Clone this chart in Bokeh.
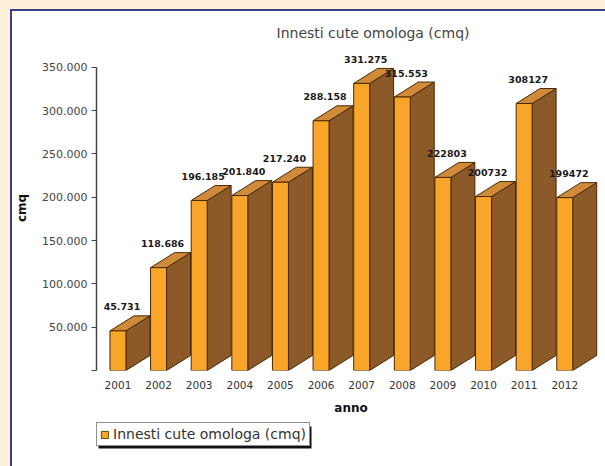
from bokeh.plotting import figure
from bokeh.models import Range1d, FixedTicker, Legend, LegendItem, BoxAnnotation
from bokeh.layouts import column
from bokeh.core.properties import value
from bokeh.embed import file_html
from bokeh.resources import INLINE

# ---------------- data ----------------
years = ["2001", "2002", "2003", "2004", "2005", "2006",
         "2007", "2008", "2009", "2010", "2011", "2012"]
values = [45731, 118686, 196185, 201840, 217240, 288158,
          331275, 315553, 222803, 200732, 308127, 199472]
value_labels = ["45.731", "118.686", "196.185", "201.840", "217.240", "288.158",
                "331.275", "315.553", "222803", "200732", "308127", "199472"]
y_ticks = [0, 50000, 100000, 150000, 200000, 250000, 300000, 350000]
y_tick_labels = ["", "50.000", "100.000", "150.000", "200.000",
                 "250.000", "300.000", "350.000"]
chart_title = "Innesti cute omologa (cmq)"
series_name = "Innesti cute omologa (cmq)"
x_title = "anno"
y_title = "cmq"

# ---------------- style / geometry ----------------
FONT = "DejaVu Sans"
FRONT = "#f9a52a"
SIDE = "#8c5a28"
TOP = "#cf8a3a"
EDGE = "#4a2800"
CREAM = "#fdefd9"
BLUE = "#3c3c8c"

FIG_W, FIG_H = 593, 409
LEG_H = 46
ML, MT, MB, MR = 83, 34, 50, 0
frame_w = FIG_W - ML - MR
frame_h = FIG_H - MT - MB
px_per_cat = 40.7
x_start = -21.5 / px_per_cat
x_end = x_start + frame_w / px_per_cat
y_per_px = 350000 / 303.3
y_end = frame_h * y_per_px

w = 16 / px_per_cat         # front width
dx = 24 / px_per_cat        # depth (x)
dy = 15 * y_per_px          # depth (y)

xs = list(range(len(years)))

side_xs, side_ys, top_xs, top_ys = [], [], [], []
for x, v in zip(xs, values):
    r = x + w / 2
    l = x - w / 2
    side_xs.append([r, r + dx, r + dx, r])
    side_ys.append([0, dy, v + dy, v])
    top_xs.append([l, r, r + dx, l + dx])
    top_ys.append([v, v, v + dy, v + dy])

p = figure(width=FIG_W, height=FIG_H,
           x_range=Range1d(x_start, x_end), y_range=Range1d(0, y_end),
           output_backend="svg", toolbar_location=None,
           min_border_left=ML, min_border_right=MR,
           min_border_top=MT, min_border_bottom=MB,
           border_fill_color="white", background_fill_color="white",
           outline_line_color=None)

p.patches(side_xs, side_ys, fill_color=SIDE, line_color=EDGE, line_width=1)
p.patches(top_xs, top_ys, fill_color=TOP, line_color=EDGE, line_width=1)
front = p.vbar(x=xs, top=values, bottom=0, width=w,
               fill_color=FRONT, line_color=EDGE, line_width=1)

p.text(x=xs, y=values, text=value_labels, x_offset=4, y_offset=-24,
       text_font=value(FONT), text_font_style="bold", text_font_size="9.5px",
       text_color="#1a1a1a", text_align="center", text_baseline="middle")

# title
p.title.text = chart_title
p.title.align = "left"
p.title.offset = 180
p.title.text_font = FONT
p.title.text_font_size = "14px"
p.title.text_font_style = "normal"
p.title.text_color = "#444444"

# y axis
ya = p.yaxis[0]
ya.ticker = FixedTicker(ticks=y_ticks)
ya.major_label_overrides = dict(zip(y_ticks, y_tick_labels))
ya.bounds = (0, 350000)
ya.minor_tick_line_color = None
ya.major_tick_out = 5
ya.major_tick_in = 0
ya.major_tick_line_color = "#444444"
ya.axis_line_color = "#444444"
ya.axis_line_width = 1.5
ya.major_label_standoff = 4
ya.major_label_text_font = FONT
ya.major_label_text_font_size = "11px"
ya.major_label_text_color = "#444444"
ya.axis_label = y_title
ya.axis_label_text_font = FONT
ya.axis_label_text_font_style = "bold"
ya.axis_label_text_font_size = "12px"
ya.axis_label_text_color = "#111111"
ya.axis_label_standoff = 10

# x axis
xa = p.xaxis[0]
xa.ticker = FixedTicker(ticks=xs)
xa.major_label_overrides = dict(zip(xs, years))
xa.axis_line_color = None
xa.major_tick_line_color = None
xa.minor_tick_line_color = None
xa.major_tick_out = 0
xa.major_tick_in = 0
xa.major_label_standoff = 10
xa.major_label_text_font = FONT
xa.major_label_text_font_size = "10.5px"
xa.major_label_text_color = "#333333"
xa.axis_label = x_title
xa.axis_label_text_font = FONT
xa.axis_label_text_font_style = "bold"
xa.axis_label_text_font_size = "12px"
xa.axis_label_text_color = "#111111"
xa.axis_label_standoff = 9

p.xgrid.visible = False
p.ygrid.visible = False

# ---------------- legend strip (frame aligned with the main plot) ----------------
pl = figure(width=FIG_W, height=LEG_H, x_range=Range1d(-100, -99), y_range=Range1d(-2, -1),
            output_backend="svg", toolbar_location=None,
            min_border_left=0, min_border_right=0, min_border_top=0, min_border_bottom=0,
            x_axis_type=None, y_axis_type=None,
            border_fill_color="white", background_fill_color="white",
            outline_line_color=None)
pl.xgrid.visible = False
pl.ygrid.visible = False
# legend key renderer (same series; lies outside this strip's visible range)
key = pl.vbar(x=xs, top=values, bottom=0, width=w,
              fill_color=FRONT, line_color="#5a4a00", line_width=1)

LEG_BOX_W, LEG_BOX_H = 213, 22
shadow = BoxAnnotation(left=2, right=2 + LEG_BOX_W, bottom=18, top=18 + LEG_BOX_H,
                       left_units="screen", right_units="screen",
                       top_units="screen", bottom_units="screen",
                       fill_color="#111111", fill_alpha=1, line_color=None)
pl.add_layout(shadow)

legend = Legend(items=[LegendItem(label=series_name, renderers=[key])],
                location=(0, 20), orientation="horizontal",
                border_line_color="#222222", border_line_width=1,
                background_fill_color="white", background_fill_alpha=1,
                label_text_font=FONT, label_text_font_size="14px",
                label_text_color="#333333", glyph_width=9, glyph_height=9,
                padding=3, margin=0, label_standoff=4)
pl.add_layout(legend)

inner = column(p, pl, spacing=0,
               styles={"border-left": f"2px solid {BLUE}", "border-top": f"2px solid {BLUE}",
                       "background-color": "white"})
page = column(inner, spacing=0,
              styles={"background-color": CREAM, "padding-left": "10px", "padding-top": "9px"})

open("out.html", "w").write(file_html(page, INLINE))
